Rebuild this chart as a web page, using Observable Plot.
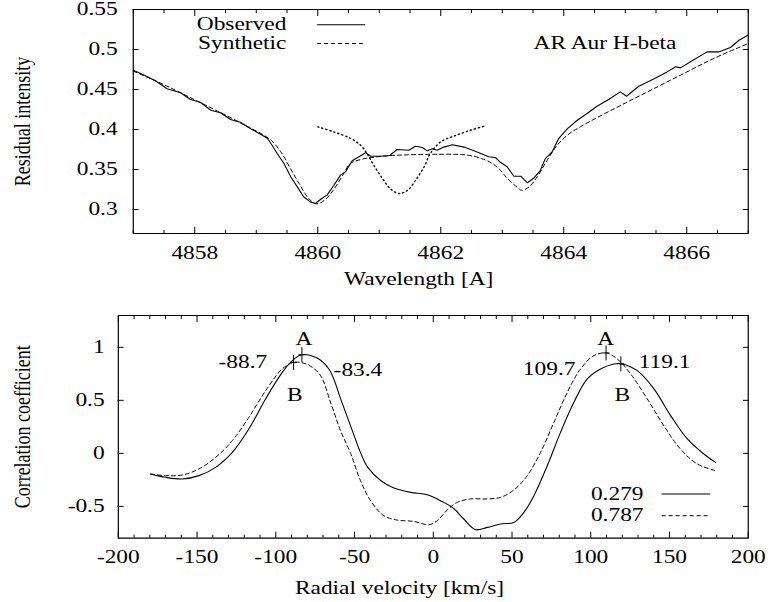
<!DOCTYPE html>
<html>
<head>
<meta charset="utf-8">
<script src="https://cdn.jsdelivr.net/npm/d3@7"></script>
<script src="https://cdn.jsdelivr.net/npm/@observablehq/plot@0.6"></script>
<style>
  html, body { margin: 0; padding: 0; background: white; }
  #chart { width: 771px; height: 602px; overflow: hidden; }
  #chart svg { display: block; font-family: "Liberation Serif", serif !important; font-size: 18px !important; }
  #chart svg text, #chart svg g { font-family: "Liberation Serif", serif !important; }
  #chart svg path, #chart svg line, #chart svg rect { vector-effect: non-scaling-stroke; }
</style>
</head>
<body>
<div id="chart"></div>
<script>
// ---------- Top panel data: AR Aur H-beta profile ----------
const obsWavelength = [4857.00,4857.12,4857.36,4857.55,4857.77,4857.93,4858.09,4858.26,4858.42,4858.58,4858.74,4858.91,4859.07,4859.18,4859.26,4859.34,4859.45,4859.56,4859.67,4859.77,4859.88,4859.96,4860.07,4860.15,4860.26,4860.37,4860.45,4860.56,4860.67,4860.78,4860.86,4861.02,4861.17,4861.29,4861.48,4861.59,4861.70,4861.78,4861.86,4861.94,4862.05,4862.19,4862.38,4862.59,4862.78,4862.89,4862.97,4863.08,4863.19,4863.30,4863.41,4863.51,4863.62,4863.70,4863.81,4863.92,4864.06,4864.22,4864.38,4864.54,4864.73,4864.92,4865.02,4865.22,4865.47,4865.68,4865.82,4865.90,4866.06,4866.33,4866.52,4866.71,4866.85,4867.00];
const obsIntensity = [0.474,0.470,0.461,0.451,0.446,0.4375,0.434,0.424,0.421,0.4125,0.409,0.401,0.394,0.389,0.380,0.370,0.3575,0.341,0.328,0.316,0.3095,0.3075,0.314,0.318,0.330,0.343,0.347,0.361,0.366,0.371,0.3666,0.3666,0.3675,0.375,0.374,0.379,0.3775,0.3733,0.376,0.374,0.378,0.381,0.378,0.372,0.366,0.365,0.359,0.3534,0.3416,0.3416,0.3334,0.339,0.349,0.3636,0.372,0.389,0.401,0.4116,0.420,0.429,0.4375,0.447,0.4416,0.454,0.4634,0.472,0.4784,0.477,0.4846,0.497,0.497,0.5025,0.5116,0.518];

const synWavelength = [4857.00,4857.5,4858.0,4858.5,4858.9,4859.1,4859.25,4859.4,4859.55,4859.7,4859.85,4859.97,4860.1,4860.25,4860.4,4860.53,4860.70,4860.97,4861.35,4861.89,4862.43,4862.67,4862.84,4862.97,4863.08,4863.24,4863.32,4863.43,4863.57,4863.73,4863.89,4864.06,4864.27,4864.82,4865.36,4865.90,4866.44,4867.00];
const synIntensity = [0.473,0.456,0.437,0.418,0.402,0.394,0.386,0.372,0.352,0.332,0.314,0.307,0.311,0.324,0.342,0.3575,0.3625,0.366,0.368,0.369,0.368,0.3635,0.3575,0.349,0.339,0.328,0.324,0.328,0.341,0.3616,0.380,0.393,0.4034,0.426,0.447,0.468,0.4888,0.5075];

const dotWavelength = [4860.00,4860.26,4860.53,4860.70,4860.80,4860.91,4861.05,4861.18,4861.32,4861.46,4861.59,4861.73,4861.83,4862.00,4862.21,4862.48,4862.70];
const dotIntensity = [0.4033,0.397,0.389,0.380,0.370,0.3555,0.339,0.326,0.320,0.324,0.3366,0.3533,0.370,0.3846,0.3916,0.399,0.404];

const topSeriesNames = ["Observed", "Synthetic"];
const topTitle = "AR Aur H-beta";
const wlMajorTicks = [4858, 4860, 4862, 4864, 4866];
const intensityTicks = [0.3, 0.35, 0.4, 0.45, 0.5, 0.55];

// ---------- Bottom panel data: cross-correlation ----------
const solidVelocity = [-179.5,-170,-159.4,-148.8,-138.2,-127.6,-117.1,-106.5,-95.9,-89.5,-83.4,-74.7,-66.3,-58.5,-51.4,-46,-41.6,-33.2,-25.0,-14.4,-3.8,4.6,12.1,19.4,26.9,34.3,42.7,51.2,57.5,63.9,72.4,80.8,89.3,97.8,106.2,114.7,119.1,129.5,140.1,150.7,161.3,171.8,179.2];
const solidCorr = [-0.194,-0.226,-0.242,-0.21,-0.132,0.009,0.23,0.513,0.764,0.875,0.93,0.906,0.796,0.5,0.214,0.0,-0.132,-0.258,-0.327,-0.368,-0.39,-0.446,-0.509,-0.619,-0.72,-0.698,-0.666,-0.651,-0.557,-0.399,-0.116,0.198,0.481,0.702,0.796,0.843,0.845,0.78,0.608,0.356,0.136,-0.006,-0.085];

const dashVelocity = [-179.5,-170,-159.4,-148.8,-138.2,-127.6,-117.1,-106.5,-95.9,-88.7,-80.8,-72.3,-64.9,-58.9,-52.5,-46.2,-39.8,-31.4,-22.9,-12.3,-2.8,2.5,8.9,15.2,23.7,34.3,42.7,51.2,59.7,68.1,76.6,85.1,93.5,102.0,109.7,116.8,125.3,135.9,146.4,157.0,167.6,179.2];
const dashCorr = [-0.194,-0.21,-0.204,-0.147,-0.038,0.12,0.34,0.59,0.796,0.858,0.843,0.749,0.466,0.214,0.0,-0.258,-0.446,-0.588,-0.629,-0.642,-0.673,-0.635,-0.534,-0.462,-0.43,-0.43,-0.415,-0.345,-0.21,0.009,0.292,0.575,0.796,0.922,0.947,0.89,0.749,0.513,0.261,0.04,-0.10,-0.163];

const bottomSeriesNames = ["0.279", "0.787"];
const peakVelocity = [-83.4, -88.7, 109.7, 119.1];
const peakCorr = [0.93, 0.858, 0.947, 0.845];
const peakLetter = ["A", "B", "A", "B"];
const velocityTicks = [-200, -150, -100, -50, 0, 50, 100, 150, 200];
const corrTicks = [-0.5, 0, 0.5, 1];

// ---------- build tables ----------
const zip = (xs, ys) => xs.map((x, i) => ({x, y: ys[i]}));
const observed = zip(obsWavelength, obsIntensity);
const synthetic = zip(synWavelength, synIntensity);
const dotted = zip(dotWavelength, dotIntensity);
const corrSolid = zip(solidVelocity, solidCorr);
const corrDash = zip(dashVelocity, dashCorr);
const peaks = peakVelocity.map((v, i) => ({x: v, y: peakCorr[i], letter: peakLetter[i], label: String(v)}));

const wlMinorTicks = d3.range(4857, 4867.01, 0.5).filter(t => !wlMajorTicks.includes(t));
const velMinorTicks = d3.range(-200, 200.1, 10).filter(t => !velocityTicks.includes(t));

const W = 593;                      // logical width, horizontally stretched to 771px
const style = {fontFamily: "Liberation Serif", fontSize: "18px", color: "black", background: "white", overflow: "visible"};
const dash = "4,3";
const dot = "1.2,3";

function stretch(svg, h) {
  svg.setAttribute("width", 771);
  svg.setAttribute("height", h);
  svg.setAttribute("viewBox", `0 0 ${W} ${h}`);
  svg.setAttribute("preserveAspectRatio", "none");
  svg.style.width = "771px";
  svg.style.height = h + "px";
  svg.style.maxWidth = "none";
  return svg;
}

function frameTicks(xMajor, xMinor, yMajor, padX, padY, fmt) {
  return [
    Plot.axisX({anchor: "bottom", ticks: xMajor, tickSize: 0, tickPadding: padX, tickFormat: fmt, label: null}),
    Plot.axisX({anchor: "bottom", ticks: xMajor, tickSize: -6, text: null, label: null}),
    Plot.axisX({anchor: "bottom", ticks: xMinor, tickSize: -3, text: null, label: null}),
    Plot.axisX({anchor: "top", ticks: xMajor, tickSize: -6, text: null, label: null}),
    Plot.axisX({anchor: "top", ticks: xMinor, tickSize: -3, text: null, label: null}),
    Plot.axisY({anchor: "left", ticks: yMajor, tickSize: 0, tickPadding: padY, tickFormat: d => String(d), label: null}),
    Plot.axisY({anchor: "left", ticks: yMajor, tickSize: -4.6, text: null, label: null}),
    Plot.axisY({anchor: "right", ticks: yMajor, tickSize: -4.6, text: null, label: null}),
    Plot.frame({stroke: "black", strokeWidth: 1.2})
  ];
}

const crossMark = {draw(ctx) { ctx.moveTo(0, -7.5); ctx.lineTo(0, 7.5); ctx.moveTo(-2.6, 0); ctx.lineTo(2.6, 0); }};

const topPlot = Plot.plot({
  width: W, height: 300,
  marginLeft: 102, marginRight: 18, marginTop: 9, marginBottom: 67,
  x: {domain: [4857, 4867]},
  y: {domain: [0.27, 0.55]},
  style,
  marks: [
    ...frameTicks(wlMajorTicks, wlMinorTicks, intensityTicks, 13, 12, d => String(d)),
    Plot.line(synthetic, {x: "x", y: "y", stroke: "black", strokeWidth: 1, strokeDasharray: dash, curve: "catmull-rom"}),
    Plot.line(dotted, {x: "x", y: "y", stroke: "black", strokeWidth: 1.4, strokeDasharray: dot, curve: "catmull-rom"}),
    Plot.line(observed, {x: "x", y: "y", stroke: "black", strokeWidth: 1.1}),
    // key
    Plot.text([topSeriesNames[0]], {x: 4859.49, y: 0.531, text: d => d, textAnchor: "end"}),
    Plot.text([topSeriesNames[1]], {x: 4859.49, y: 0.5075, text: d => d, textAnchor: "end"}),
    Plot.ruleY([0.531], {x1: 4860.0, x2: 4860.78, stroke: "black", strokeWidth: 1.1}),
    Plot.ruleY([0.5075], {x1: 4860.0, x2: 4860.78, stroke: "black", strokeWidth: 1, strokeDasharray: dash}),
    Plot.text([topTitle], {x: 4863.51, y: 0.508, text: d => d, textAnchor: "start"}),
    // axis titles
    Plot.text(["Wavelength [A]"], {frameAnchor: "bottom", lineAnchor: "middle", textAnchor: "middle", dy: 45.5, dx: -17, text: d => d}),
    Plot.text(["Residual intensity"], {frameAnchor: "left", lineAnchor: "middle", textAnchor: "middle", rotate: -90, dx: -85.4, text: d => d})
  ]
});

const bottomPlot = Plot.plot({
  width: W, height: 302,
  marginLeft: 90.5, marginRight: 18, marginTop: 15, marginBottom: 64.3,
  x: {domain: [-200, 200]},
  y: {domain: [-0.8, 1.3]},
  style,
  marks: [
    ...frameTicks(velocityTicks, velMinorTicks, corrTicks, 12, 10.5, d => String(d)),
    Plot.line(corrDash, {x: "x", y: "y", stroke: "black", strokeWidth: 1, strokeDasharray: dash, curve: "catmull-rom"}),
    Plot.line(corrSolid, {x: "x", y: "y", stroke: "black", strokeWidth: 1.1, curve: "catmull-rom"}),
    Plot.dot(peaks, {x: "x", y: "y", symbol: crossMark, r: 5, fill: "none", stroke: "black", strokeWidth: 1}),
    // peak annotations
    Plot.text(["A"], {x: -82.2, y: 1.079, text: d => d}),
    Plot.text(["B"], {x: -87.9, y: 0.544, text: d => d}),
    Plot.text([peaks[1].label], {x: -105.4, y: 0.858, text: d => d, textAnchor: "end"}),
    Plot.text([peaks[0].label], {x: -63.3, y: 0.78, text: d => d, textAnchor: "start"}),
    Plot.text(["A"], {x: 109.4, y: 1.079, text: d => d}),
    Plot.text(["B"], {x: 120.0, y: 0.544, text: d => d}),
    Plot.text([peaks[2].label], {x: 90.3, y: 0.796, text: d => d, textAnchor: "end"}),
    Plot.text([peaks[3].label], {x: 130.5, y: 0.858, text: d => d, textAnchor: "start"}),
    // key
    Plot.text([bottomSeriesNames[0]], {x: 133.5, y: -0.383, text: d => d, textAnchor: "end"}),
    Plot.text([bottomSeriesNames[1]], {x: 133.5, y: -0.588, text: d => d, textAnchor: "end"}),
    Plot.ruleY([-0.383], {x1: 145.4, x2: 176.1, stroke: "black", strokeWidth: 1.1}),
    Plot.ruleY([-0.588], {x1: 145.4, x2: 176.1, stroke: "black", strokeWidth: 1, strokeDasharray: dash}),
    // axis titles
    Plot.text(["Radial velocity [km/s]"], {frameAnchor: "bottom", lineAnchor: "middle", textAnchor: "middle", dy: 50, dx: -26, text: d => d}),
    Plot.text(["Correlation coefficient"], {frameAnchor: "left", lineAnchor: "middle", textAnchor: "middle", rotate: -90, dx: -73.8, text: d => d})
  ]
});

const chart = document.getElementById("chart");
chart.appendChild(stretch(topPlot, 300));
chart.appendChild(stretch(bottomPlot, 302));
</script>
</body>
</html>
